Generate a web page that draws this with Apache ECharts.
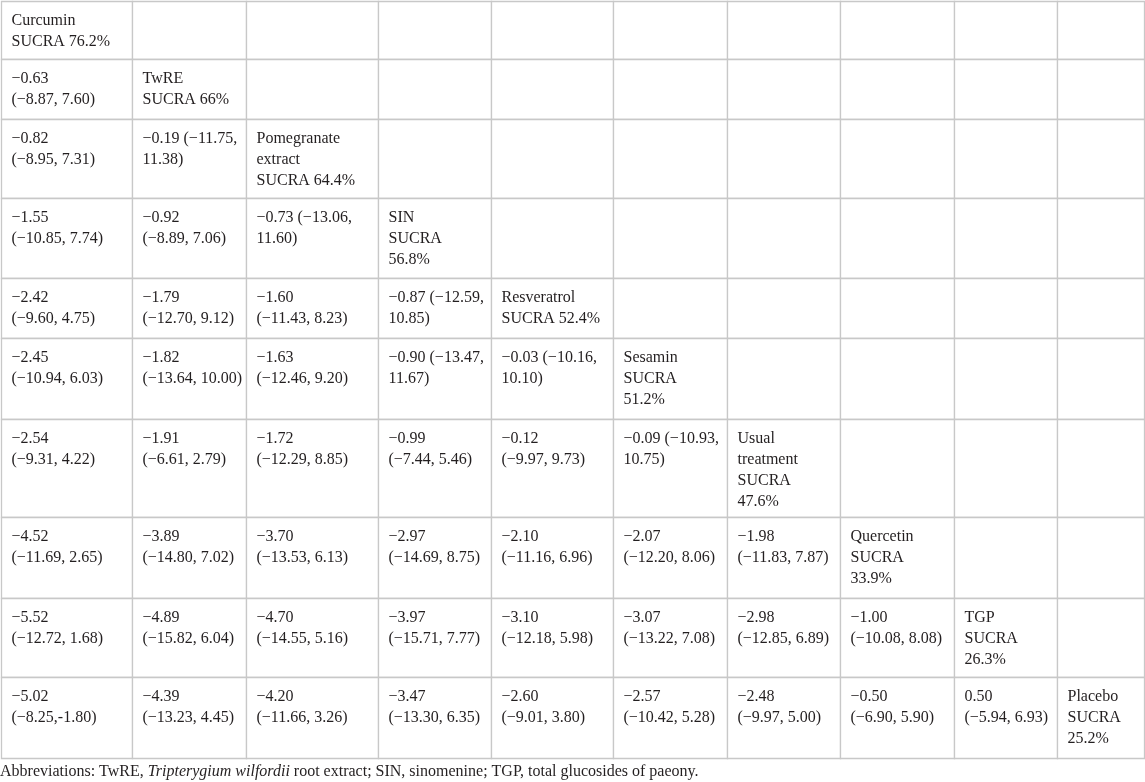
<!DOCTYPE html>
<html lang="en">
<head>
    <meta charset="UTF-8">
    <title>League table</title>
    <script src="https://cdn.jsdelivr.net/npm/echarts@6/dist/echarts.min.js"></script>
    <style>
        html, body { margin: 0; padding: 0; background: #fff; }
        #main { width: 1145px; height: 782px; }
    </style>
</head>
<body>
<div id="main"></div>
<script>
// treatments on the diagonal
var names = ['Curcumin', 'TwRE', 'Pomegranate\nextract', 'SIN', 'Resveratrol', 'Sesamin', 'Usual\ntreatment', 'Quercetin', 'TGP', 'Placebo'];
var sucra = ['76.2', '66', '64.4', '56.8', '52.4', '51.2', '47.6', '33.9', '26.3', '25.2'];
// diagonal cells where the SUCRA value goes on its own line
var sucraOwnLine = [3, 5, 6, 7, 8, 9];

// lower triangle, row by row: estimate and interval
var est = [
    [],
    [-0.63],
    [-0.82, -0.19],
    [-1.55, -0.92, -0.73],
    [-2.42, -1.79, -1.60, -0.87],
    [-2.45, -1.82, -1.63, -0.90, -0.03],
    [-2.54, -1.91, -1.72, -0.99, -0.12, -0.09],
    [-4.52, -3.89, -3.70, -2.97, -2.10, -2.07, -1.98],
    [-5.52, -4.89, -4.70, -3.97, -3.10, -3.07, -2.98, -1.00],
    [-5.02, -4.39, -4.20, -3.47, -2.60, -2.57, -2.48, -0.50, 0.50]
];
var ci = [
    [],
    ['(−8.87, 7.60)'],
    ['(−8.95, 7.31)', '(−11.75, 11.38)'],
    ['(−10.85, 7.74)', '(−8.89, 7.06)', '(−13.06, 11.60)'],
    ['(−9.60, 4.75)', '(−12.70, 9.12)', '(−11.43, 8.23)', '(−12.59, 10.85)'],
    ['(−10.94, 6.03)', '(−13.64, 10.00)', '(−12.46, 9.20)', '(−13.47, 11.67)', '(−10.16, 10.10)'],
    ['(−9.31, 4.22)', '(−6.61, 2.79)', '(−12.29, 8.85)', '(−7.44, 5.46)', '(−9.97, 9.73)', '(−10.93, 10.75)'],
    ['(−11.69, 2.65)', '(−14.80, 7.02)', '(−13.53, 6.13)', '(−14.69, 8.75)', '(−11.16, 6.96)', '(−12.20, 8.06)', '(−11.83, 7.87)'],
    ['(−12.72, 1.68)', '(−15.82, 6.04)', '(−14.55, 5.16)', '(−15.71, 7.77)', '(−12.18, 5.98)', '(−13.22, 7.08)', '(−12.85, 6.89)', '(−10.08, 8.08)'],
    ['(−8.25,-1.80)', '(−13.23, 4.45)', '(−11.66, 3.26)', '(−13.30, 6.35)', '(−9.01, 3.80)', '(−10.42, 5.28)', '(−9.97, 5.00)', '(−6.90, 5.90)', '(−5.94, 6.93)']
];
// cells where the text runs on after the estimate and wraps inside the interval
var inlineCells = ['2,1', '3,2', '4,3', '5,3', '5,4', '6,5'];

var footnote = 'Abbreviations: TwRE, {i|Tripterygium wilfordii} root extract; SIN, sinomenine; TGP, total glucosides of paeony.';

// table layout (pixels)
var colEdges = [1, 132, 246, 378, 491, 613, 727, 840, 954, 1057, 1144];
var rowEdges = [1, 59, 119, 198, 278, 338, 419, 517, 598, 677, 758];

function fmt(v) {
    var s = Math.abs(v).toFixed(2);
    return v < 0 ? '−' + s : s;
}

var cells = [];
for (var r = 0; r < names.length; r++) {
    for (var c = 0; c < names.length; c++) {
        var txt = '';
        if (r === c) {
            txt = names[r] + '\nSUCRA' + (sucraOwnLine.indexOf(r) >= 0 ? '\n' : ' ') + sucra[r] + '%';
        } else if (c < r) {
            if (inlineCells.indexOf(r + ',' + c) >= 0) {
                var parts = ci[r][c].split(' ');
                txt = fmt(est[r][c]) + ' ' + parts[0] + '\n' + parts[1];
            } else {
                txt = fmt(est[r][c]) + '\n' + ci[r][c];
            }
        }
        cells.push([c, r, txt]);
    }
}

var chart = echarts.init(document.getElementById('main'), null, { renderer: 'canvas' });
chart.setOption({
    animation: false,
    backgroundColor: '#fff',
    grid: { left: 0, right: 0, top: 0, bottom: 0 },
    xAxis: { type: 'value', min: 0, max: 1145, show: false },
    yAxis: { type: 'value', min: 0, max: 782, inverse: true, show: false },
    title: {
        text: footnote,
        left: 0,
        top: 764,
        padding: 0,
        textStyle: {
            fontFamily: 'Liberation Serif',
            fontSize: 16,
            fontWeight: 'normal',
            color: '#231f20',
            rich: {
                i: { fontFamily: 'Liberation Serif', fontSize: 16, fontStyle: 'italic', color: '#231f20' }
            }
        }
    },
    series: [{
        type: 'custom',
        coordinateSystem: 'cartesian2d',
        data: cells,
        renderItem: function (params, api) {
            var c = api.value(0), r = api.value(1);
            var p0 = api.coord([colEdges[c], rowEdges[r]]);
            var p1 = api.coord([colEdges[c + 1], rowEdges[r + 1]]);
            var x0 = Math.round(p0[0]) + 0.5, y0 = Math.round(p0[1]) + 0.5;
            var x1 = Math.round(p1[0]) + 0.5, y1 = Math.round(p1[1]) + 0.5;
            return {
                type: 'group',
                children: [{
                    type: 'rect',
                    shape: { x: x0, y: y0, width: x1 - x0, height: y1 - y0 },
                    style: { fill: '#fff', stroke: '#c8c8c8', lineWidth: 1.3 }
                }, {
                    type: 'text',
                    x: x0 + 10,
                    y: y0 + 9,
                    style: {
                        text: cells[params.dataIndex][2],
                        fontFamily: 'Liberation Serif',
                        fontSize: 16,
                        lineHeight: 21,
                        fill: '#231f20',
                        align: 'left',
                        verticalAlign: 'top'
                    }
                }]
            };
        }
    }]
});
</script>
</body>
</html>
